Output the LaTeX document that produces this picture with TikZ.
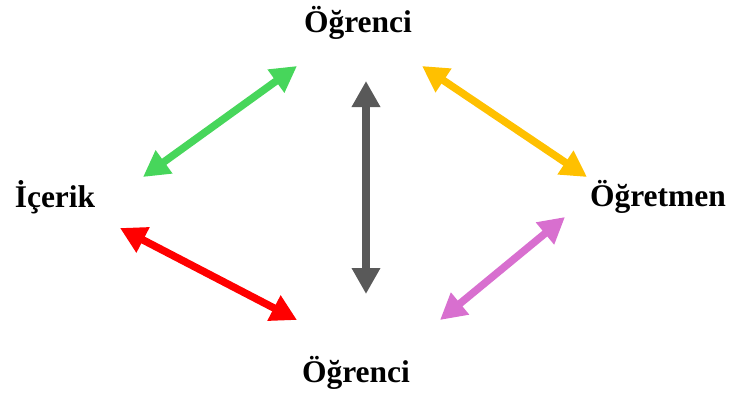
\documentclass[tikz,border=0pt]{standalone}
\usepackage{fontspec}
\setmainfont{Liberation Serif}
\usetikzlibrary{arrows.meta}
\definecolor{cgreen}{HTML}{47D65B}
\definecolor{cgray}{HTML}{595959}
\definecolor{corange}{HTML}{FFC000}
\definecolor{cred}{HTML}{FF0000}
\definecolor{cpink}{HTML}{D86FCF}
\begin{document}
\begin{tikzpicture}[x=1pt,y=-1pt,
  lbl/.style={font=\fontsize{31.5}{36}\selectfont\bfseries, inner sep=0pt},
  link/.style={line width=7.5pt, {Triangle[length=26pt,width=27pt]}-{Triangle[length=26pt,width=27pt]}}]
  \useasboundingbox (0,0) rectangle (730,394);
  % labels
  \node[lbl] (top) at (358,23) {Öğrenci};
  \node[lbl] (left) at (55,197) {İçerik};
  \node[lbl] (right) at (658,197) {Öğretmen};
  \node[lbl] (bottom) at (356,373) {Öğrenci};
  % arrow end points
  \coordinate (g1) at (143,177); \coordinate (g2) at (297,66);
  \coordinate (k1) at (366,81);  \coordinate (k2) at (366,294);
  \coordinate (o1) at (422,66);  \coordinate (o2) at (587,177);
  \coordinate (r1) at (120,228); \coordinate (r2) at (297,320);
  \coordinate (p1) at (440,320); \coordinate (p2) at (565,217);
  % double-headed connectors
  \draw[link, cgreen] (g1) -- (g2);
  \draw[link, cgray] (k1) -- (k2);
  \draw[link, corange] (o1) -- (o2);
  \draw[link, cred] (r1) -- (r2);
  \draw[link, cpink] (p1) -- (p2);
\end{tikzpicture}
\end{document}
